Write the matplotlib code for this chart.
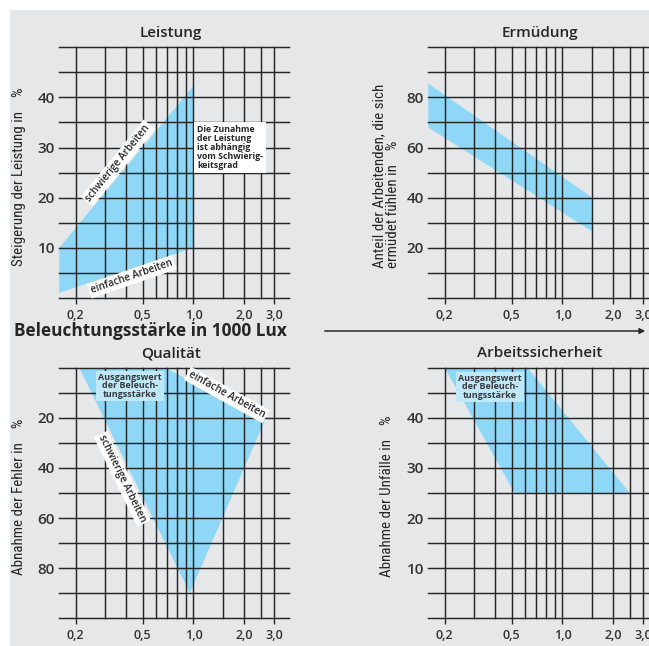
import matplotlib
matplotlib.use('Agg')
import matplotlib.pyplot as plt
from matplotlib.patches import Rectangle, FancyArrowPatch
from matplotlib.ticker import NullFormatter

W, H = 649, 646
plt.rcParams['font.family'] = ['Open Sans', 'DejaVu Sans']
COND = ['Roboto Condensed', 'Open Sans', 'DejaVu Sans']

# x-Achse: Beleuchtungsstärke in 1000 Lux (log)
x_grid = [0.2, 0.3, 0.4, 0.5, 0.6, 0.7, 0.8, 0.9, 1.0, 1.5, 2.0, 2.5, 3.0]
x_ticks = [0.2, 0.5, 1.0, 2.0, 3.0]
x_labels = ['0,2', '0,5', '1,0', '2,0', '3,0']
x_min, x_max = 0.16, 3.67

# Leistung (Steigerung in %)
leistung_x = [0.16, 0.16, 1.0, 1.0]
leistung_y = [1, 10, 42.3, 10]

# Ermüdung (Anteil in %)
ermuedung_x = [0.16, 1.5, 1.5, 0.16]
ermuedung_y = [85.5, 40, 26.5, 68]

# Qualität (Abnahme der Fehler in %)
qualitaet_x = [0.21, 0.68, 2.65, 0.95]
qualitaet_y = [0, 0, 21, 90]

# Arbeitssicherheit (Abnahme der Unfälle in %)
sicherheit_x = [0.2, 0.62, 2.5, 0.52]
sicherheit_y = [50, 50, 25, 25]

BLUE = '#8fd7f6'
INK = '#262626'
BG = '#e6e7e9'

fig = plt.figure(figsize=(W / 100, H / 100), dpi=100)
fig.patch.set_facecolor('white')
fig.add_artist(Rectangle((10 / W, 0), 1, (H - 10) / H, transform=fig.transFigure,
                         facecolor=BG, edgecolor='none', zorder=-10))


def make_axes(left, top, ymax, ystep, yticks, title, ylabel, lab_dx, invert=False):
    ax = fig.add_axes([left / W, 1 - (top + 250.5) / H, 229.4 / W, 250.5 / H])
    ax.patch.set_alpha(0)
    ax.set_xscale('log')
    ax.set_xlim(x_min, x_max)
    if invert:
        ax.set_ylim(ymax, 0)
    else:
        ax.set_ylim(0, ymax)
    ax.set_xticks(x_ticks)
    ax.set_xticklabels(x_labels)
    ax.set_xticks([v for v in x_grid if v not in x_ticks], minor=True)
    ax.xaxis.set_minor_formatter(NullFormatter())
    ax.set_yticks(yticks)
    ax.set_yticks([v for v in range(0, ymax + 1, ystep) if v not in yticks], minor=True)
    ax.grid(which='both', color=INK, lw=1.05, clip_on=False)
    for s in ax.spines.values():
        s.set_visible(False)
    ax.tick_params(axis='x', which='major', length=4, width=1, color=INK, pad=4,
                   labelsize=9, labelcolor='#333333')
    ax.tick_params(axis='x', which='minor', length=0)
    ax.tick_params(axis='y', which='both', length=0, pad=3, labelsize=11,
                   labelcolor='#333333')
    for lab in ax.get_xticklabels() + ax.get_yticklabels():
        lab.set_fontweight('semibold')
    ax.text(0.487, 1.057, title, transform=ax.transAxes, ha='center', va='center',
            fontsize=11, fontweight='semibold', color=INK)
    ax.set_ylabel(ylabel, fontsize=10.8, color=INK, multialignment='left',
                  linespacing=0.95, family=COND)
    ax.yaxis.set_label_coords(lab_dx, 0.485)
    return ax


box_w = dict(boxstyle='square,pad=0.2', facecolor='white', edgecolor='none')
box_b = dict(boxstyle='square,pad=0.2', facecolor='#bfe8fa', edgecolor='none')

# Leistung
ax1 = make_axes(59.3, 47.3, 50, 5, [10, 20, 30, 40], 'Leistung',
                'Steigerung der Leistung in    %', -0.145)
ax1.fill(leistung_x, leistung_y, color=BLUE, lw=0, zorder=1)
ax1.text(0.256, 0.538, 'schwierige Arbeiten', transform=ax1.transAxes, rotation=51,
         ha='center', va='center', fontsize=7.2, fontweight='semibold', color=INK,
         bbox=box_w, zorder=4)
ax1.text(0.316, 0.084, 'einfache Arbeiten', transform=ax1.transAxes, rotation=19,
         ha='center', va='center', fontsize=7.2, fontweight='semibold', color=INK,
         bbox=box_w, zorder=4)
ax1.text(0.600, 0.69, 'Die Zunahme\nder Leistung\nist abhängig\nvom Schwierig-\nkeitsgrad',
         transform=ax1.transAxes, ha='left', va='top', fontsize=6.3, fontweight='bold',
         color=INK, linespacing=1.0, bbox=dict(boxstyle='square,pad=0.35',
                                               facecolor='white', edgecolor='none'), zorder=4)

# Ermüdung
ax2 = make_axes(428.3, 47.3, 100, 10, [20, 40, 60, 80], 'Ermüdung',
                'Anteil der Arbeitenden, die sich\nermüdet fühlen in    %', -0.123)
ax2.fill(ermuedung_x, ermuedung_y, color=BLUE, lw=0, zorder=1)

# Qualität
ax3 = make_axes(59.3, 367.7, 100, 10, [20, 40, 60, 80], 'Qualität',
                'Abnahme der Fehler in    %', -0.145, invert=True)
ax3.fill(qualitaet_x, qualitaet_y, color=BLUE, lw=0, zorder=1)
ax3.text(0.275, 0.556, 'schwierige Arbeiten', transform=ax3.transAxes, rotation=-64,
         ha='center', va='center', fontsize=7.2, fontweight='semibold', color=INK,
         bbox=box_w, zorder=4)
ax3.text(0.730, 0.891, 'einfache Arbeiten', transform=ax3.transAxes, rotation=-29,
         ha='center', va='center', fontsize=7.2, fontweight='semibold', color=INK,
         bbox=box_w, zorder=4)
ax3.text(0.308, 0.928, 'Ausgangswert\nder Beleuch-\ntungsstärke', transform=ax3.transAxes,
         ha='center', va='center', fontsize=6.5, fontweight='bold', color='#3a3a3a',
         linespacing=0.95, bbox=box_b, zorder=4)

# Arbeitssicherheit
ax4 = make_axes(428.3, 367.7, 50, 5, [10, 20, 30, 40], 'Arbeitssicherheit',
                'Abnahme der Unfälle in    %', -0.150)
ax4.fill(sicherheit_x, sicherheit_y, color=BLUE, lw=0, zorder=1)
ax4.text(0.269, 0.924, 'Ausgangswert\nder Beleuch-\ntungsstärke', transform=ax4.transAxes,
         ha='center', va='center', fontsize=6.5, fontweight='bold', color='#3a3a3a',
         linespacing=0.95, bbox=box_b, zorder=4)

# gemeinsame x-Achsenbeschriftung mit Pfeil
fig.text(14 / W, 1 - 331 / H, 'Beleuchtungsstärke in 1000 Lux', ha='left', va='center',
         fontsize=12.4, fontweight='bold', color=INK)
fig.add_artist(FancyArrowPatch((322 / W, 1 - 331 / H), (648 / W, 1 - 331 / H),
                               transform=fig.transFigure, arrowstyle='-|>',
                               mutation_scale=8, lw=1.1, color=INK))

fig.savefig('out.png', dpi=100)
